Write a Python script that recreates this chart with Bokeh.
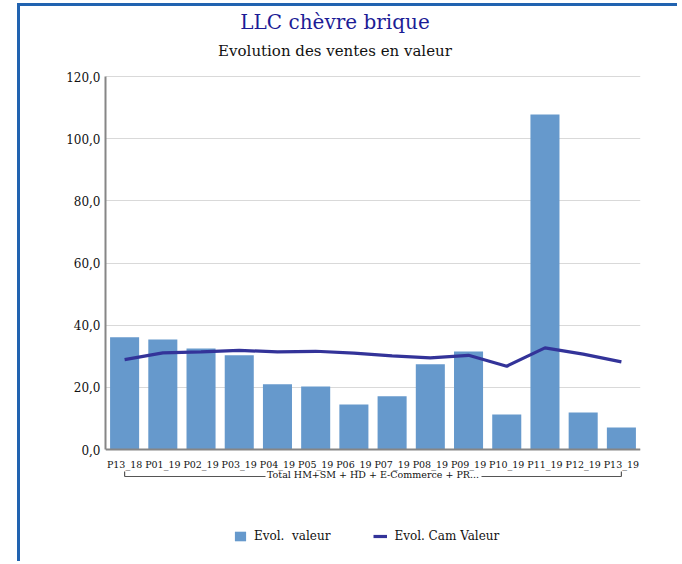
from bokeh.plotting import figure
from bokeh.models import (ColumnDataSource, Label, Legend, LegendItem,
                          CustomJSTickFormatter, FixedTicker, Range1d)
from bokeh.embed import file_html
from bokeh.resources import INLINE

periods = ["P13_18", "P01_19", "P02_19", "P03_19", "P04_19", "P05_19", "P06_19",
           "P07_19", "P08_19", "P09_19", "P10_19", "P11_19", "P12_19", "P13_19"]
evol_valeur = [36.1, 35.4, 32.5, 30.3, 21.0, 20.3, 14.5, 17.1, 27.4, 31.5, 11.3, 107.8, 11.9, 7.1]
evol_cam_valeur = [28.9, 31.1, 31.4, 31.9, 31.4, 31.6, 31.0, 30.1, 29.5, 30.3, 26.8, 32.7, 30.7, 28.2]
y_ticks = [0, 20, 40, 60, 80, 100, 120]
group_label = "Total HM+SM + HD + E-Commerce + PR..."
title_text = "LLC chèvre brique"
subtitle_text = "Evolution des ventes en valeur"

FONT = "DejaVu Serif"

# layout (pixels); canvas origin sits at page (20, 6)
W, H = 660, 558
FL, FR, FT, FB = 85, 620, 0, 537      # frame edges on canvas
Y0_PX, Y120_PX = 443, 70              # canvas y of value 0 and 120
ppu = (Y0_PX - Y120_PX) / 120.0
y_top = 120 + (Y120_PX - FT) / ppu
y_bot = -(FB - Y0_PX) / ppu
ppx = (FR - FL) / len(periods)

def sx(px):   # canvas x -> synthetic category coordinate
    return (px - FL) / ppx

def sy(py):   # canvas y -> data y
    return (Y0_PX - py) / ppu

src = ColumnDataSource(dict(p=periods, v=evol_valeur, c=evol_cam_valeur))

p = figure(width=W, height=H, x_range=periods, y_range=Range1d(y_bot, y_top),
           output_backend="svg", toolbar_location=None,
           min_border_left=FL, min_border_top=FT, min_border_right=W - FR,
           min_border_bottom=H - FB)
p.outline_line_color = None
p.background_fill_color = "white"
p.border_fill_color = "white"
p.styles = {"margin-left": "17px", "margin-top": "3px",
            "border-left": "3px solid #2163b0", "border-top": "3px solid #2163b0"}

bars = p.vbar(x="p", top="v", width=0.76, source=src, color="#6699cc", line_color=None)
ln = p.line(x="p", y="c", source=src, line_color="#333399", line_width=3.2)

p.xgrid.grid_line_color = None
p.ygrid.grid_line_color = "#d9d9d9"
p.ygrid.grid_line_width = 1.2

p.yaxis.ticker = FixedTicker(ticks=y_ticks)
p.yaxis.bounds = (0, 120)
p.yaxis.formatter = CustomJSTickFormatter(code="return tick.toFixed(1).replace('.', ',');")
p.xaxis.fixed_location = 0
for ax in (p.xaxis[0], p.yaxis[0]):
    ax.axis_line_color = "#868686"
    ax.axis_line_width = 2
    ax.major_tick_line_color = None
    ax.minor_tick_line_color = None
    ax.major_tick_out = 0
    ax.major_tick_in = 0
    ax.minor_tick_out = 0
    ax.minor_tick_in = 0
    ax.major_label_text_font = FONT
    ax.major_label_text_color = "#111111"
p.yaxis.major_label_text_font_size = "12px"
p.yaxis.major_label_standoff = 5
p.xaxis.major_label_text_font_size = "9.5px"
p.xaxis.major_label_standoff = 9

# titles
p.add_layout(Label(x=sx(314.5), y=sy(15), text=title_text,
                   text_font=FONT, text_font_size="20px", text_color="#1c1c96",
                   text_align="center", text_baseline="middle"))
p.add_layout(Label(x=sx(314.5), y=sy(44), text=subtitle_text,
                   text_font=FONT, text_font_size="15px", text_color="#111111",
                   text_align="center", text_baseline="middle"))

# group label and bracket
n = len(periods)
p.add_layout(Label(x=n / 2, y=sy(467.5), text=group_label,
                   text_font=FONT, text_font_size="9.5px", text_color="#111111",
                   text_align="center", text_baseline="middle"))
yb, yt = sy(470), sy(465)
p.segment(x0=[0.5, sx(461), 0.5, n - 0.5], x1=[sx(245), n - 0.5, 0.5, n - 0.5],
          y0=[yb, yb, yb, yb], y1=[yb, yb, yt, yt], line_color="#555555", line_width=1.2)

legend = Legend(items=[LegendItem(label="Evol.  valeur", renderers=[bars]),
                       LegendItem(label="Evol. Cam Valeur", renderers=[ln])],
                orientation="horizontal", location=(128, 0),
                label_text_font=FONT, label_text_font_size="12px", label_text_color="#111111",
                glyph_width=14, glyph_height=12, label_height=12, label_standoff=7, spacing=43,
                border_line_color=None, background_fill_alpha=0, padding=0, margin=0)
p.add_layout(legend, "center")

open("out.html", "w").write(file_html(p, INLINE))
